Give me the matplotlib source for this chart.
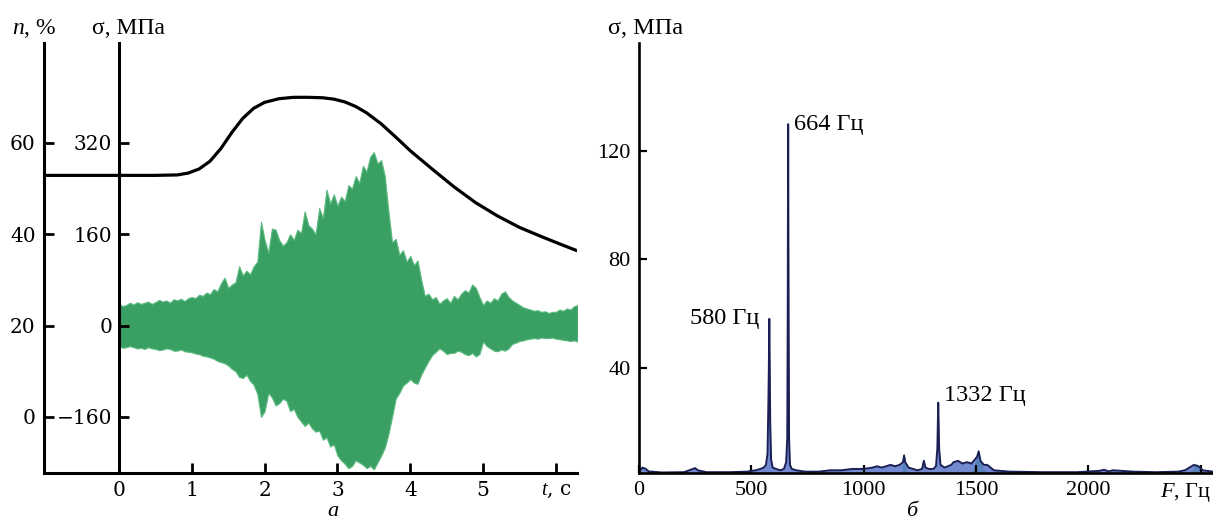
import numpy as np
import matplotlib.pyplot as plt

plt.rcParams['font.family'] = ['DejaVu Serif']
plt.rcParams['mathtext.fontset'] = 'custom'
plt.rcParams['mathtext.rm'] = 'Liberation Serif'
plt.rcParams['mathtext.it'] = 'Liberation Serif:italic'

# rotor speed n, % vs time
n_t = [-1.03, 0.0, 0.5, 0.8, 0.95, 1.1, 1.25, 1.4, 1.55, 1.7, 1.85, 2.0, 2.2, 2.4,
       2.6, 2.8, 2.95, 3.1, 3.25, 3.4, 3.6, 3.8, 4.0, 4.3, 4.6, 4.9, 5.2, 5.5,
       5.8, 6.05, 6.29]
n_val = [52.9, 52.9, 52.9, 53.0, 53.4, 54.3, 56.0, 58.8, 62.3, 65.4, 67.6, 68.9, 69.7, 70.0,
         70.0, 69.9, 69.6, 69.0, 68.0, 66.6, 64.2, 61.3, 58.3, 54.3, 50.4, 46.9, 44.0, 41.5,
         39.5, 37.9, 36.4]

# stress signal envelope, MPa, sampled every 0.05 s from 0 to 6.3 s
sig_upper = [38, 34, 36, 40, 37, 41, 38, 40, 42, 38,
             41, 45, 42, 44, 40, 46, 44, 47, 43, 48,
             50, 48, 54, 52, 58, 55, 64, 60, 74, 84,
             66, 72, 76, 104, 88, 96, 90, 104, 112, 182,
             150, 128, 170, 168, 150, 140, 146, 160, 150, 168,
             162, 200, 176, 170, 160, 206, 188, 238, 214, 230,
             210, 226, 218, 246, 240, 262, 250, 280, 270, 296,
             304, 284, 290, 262, 200, 146, 152, 124, 132, 112,
             122, 106, 114, 80, 52, 56, 46, 50, 38, 44,
             48, 40, 52, 46, 56, 62, 58, 72, 66, 50,
             36, 44, 40, 48, 44, 56, 60, 50, 44, 40,
             36, 32, 30, 28, 26, 27, 24, 25, 22, 24,
             24, 28, 26, 30, 28, 34, 36]
sig_lower = [-36, -39, -38, -36, -38, -40, -39, -41, -38, -40,
             -41, -43, -42, -40, -41, -44, -44, -42, -45, -46,
             -47, -49, -50, -53, -54, -56, -58, -62, -64, -66,
             -70, -76, -80, -90, -92, -86, -97, -104, -120, -160,
             -150, -118, -126, -140, -136, -128, -132, -150, -146, -160,
             -168, -176, -170, -180, -186, -184, -200, -196, -212, -208,
             -228, -236, -242, -250, -246, -236, -240, -244, -250, -246,
             -252, -240, -228, -214, -190, -160, -128, -118, -105, -100,
             -94, -100, -102, -86, -74, -62, -52, -46, -40, -44,
             -50, -48, -48, -44, -46, -50, -52, -48, -54, -50,
             -28, -36, -40, -44, -45, -42, -44, -40, -32, -30,
             -27, -26, -24, -23, -22, -23, -21, -22, -22, -21,
             -23, -24, -25, -26, -27, -26, -28]
sig_t = np.linspace(0, 6.3, len(sig_upper))

# amplitude spectrum
spec_f = [0, 15, 30, 45, 60, 100, 200, 240, 250, 262,
          300, 400, 480, 520, 540, 555, 565, 572, 576, 578,
          580, 582, 584, 588, 595, 610, 630, 645, 655, 660,
          662, 664, 666, 668, 672, 680, 700, 740, 800, 850,
          900, 950, 1000, 1040, 1060, 1080, 1100, 1120, 1140, 1160,
          1175, 1180, 1185, 1200, 1220, 1240, 1260, 1268, 1275, 1290,
          1310, 1322, 1328, 1332, 1336, 1342, 1360, 1390, 1400, 1420,
          1440, 1460, 1480, 1495, 1505, 1512, 1520, 1535, 1550, 1565,
          1580, 1650, 1800, 1950, 2050, 2070, 2090, 2110, 2200, 2300,
          2400, 2430, 2450, 2470, 2490, 2510, 2555]
spec_amp = [1.5, 3, 2.5, 1.5, 1.5, 1.2, 1.3, 2.5, 2.8, 2,
            1.3, 1.3, 1.5, 2, 2.5, 3, 4, 8, 27, 40,
            58, 40, 20, 6, 3, 2.5, 2, 2.5, 5, 14,
            60, 130, 60, 14, 4, 2.5, 2, 1.5, 1.5, 2,
            2, 2.5, 2.5, 3, 3.5, 3, 3.5, 4, 3.5, 4,
            5, 7.5, 5, 3, 2.5, 2, 2.5, 5.5, 3, 2.5,
            2.5, 3.5, 10, 27, 10, 4, 3, 4, 5, 5.5,
            4.5, 5, 4.5, 6, 7, 9, 5.5, 4, 4, 3,
            2, 1.5, 1.3, 1.3, 1.8, 2.2, 1.6, 2, 1.5, 1.3,
            1.5, 2, 3, 4, 3.5, 2, 1.5]
green_f = [1160, 1170, 1180, 1190, 1200, 1470, 1490, 1510, 1530, 1550,
           2440, 2460, 2480, 2500, 2520]
green_amp = [1, 2, 8.5, 2, 1, 1, 3, 9.5, 3, 1,
             1, 2, 4.5, 2, 1]

peaks = [(580, 58), (664, 130), (1332, 27)]

W, H = 1213, 524
fig = plt.figure(figsize=(W / 100, H / 100), dpi=100)

# ---- left panel: n and sigma vs time ----
ax = fig.add_axes([44 / W, 1 - 473 / H, 533 / W, 430 / H])
ax.set_xlim(-1.03, 6.29)
ax.set_ylim(-12.3, 81.9)
ax.plot(n_t, n_val, color='black', lw=2.3, solid_capstyle='round', zorder=5)
for s in ['top', 'right']:
    ax.spines[s].set_visible(False)
for s in ['left', 'bottom']:
    ax.spines[s].set_linewidth(2.2)
ax.set_yticks([0, 20, 40, 60])
ax.set_xticks([0, 1, 2, 3, 4, 5, 6])
ax.set_xticklabels(['0', '1', '2', '3', '4', '5', '$t$, с'])
ax.tick_params(direction='in', length=7, width=2, labelsize=14.5, pad=6)

ax2 = ax.twinx()
ax2.set_ylim(8 * (-12.3 - 20), 8 * (81.9 - 20))
ax2.fill_between(sig_t, sig_lower, sig_upper, color='#3a9f63', lw=0.8,
                 edgecolor='#5cbb80')
for s in ['top', 'right', 'bottom']:
    ax2.spines[s].set_visible(False)
ax2.spines['left'].set_position(('data', 0))
ax2.spines['left'].set_linewidth(2.2)
ax2.yaxis.tick_left()
ax2.set_yticks([-160, 0, 160, 320])
ax2.set_yticklabels(['\u2212160', '0', '160', '320'])
ax2.tick_params(direction='in', length=7, width=2, labelsize=14.5, pad=5)

fig.text(34 / W, 1 - 28 / H, '$n$, %', ha='center', va='center', fontsize=17,
         family='Liberation Serif')
fig.text(128 / W, 1 - 28 / H, 'σ, МПа', ha='center', va='center', fontsize=17,
         family='Liberation Serif')
fig.text(333 / W, 1 - 512 / H, 'а', ha='center', va='center', fontsize=16,
         family='Liberation Serif', style='italic')

# ---- right panel: spectrum ----
bx = fig.add_axes([639 / W, 1 - 473 / H, (W - 639) / W, 430 / H])
bx.set_xlim(0, 2555)
bx.set_ylim(1, 160)
bx.fill_between(green_f, 1, green_amp, color='#4cc070', lw=0)
bx.fill_between(spec_f, 1, spec_amp, color='#5a76c8', lw=0, alpha=0.85)
bx.plot(spec_f, spec_amp, color='#1a1f55', lw=1.4)
for s in ['top', 'right']:
    bx.spines[s].set_visible(False)
for s in ['left', 'bottom']:
    bx.spines[s].set_linewidth(1.9)
bx.set_yticks([40, 80, 120])
bx.set_xticks([0, 500, 1000, 1500, 2000, 2500])
bx.set_xticklabels(['0', '500', '1000', '1500', '2000', ''])
bx.tick_params(direction='in', length=6, width=1.6, labelsize=16, pad=6)
for lab in bx.get_xticklabels() + bx.get_yticklabels():
    lab.set_family('Liberation Serif')
fig.text(1211 / W, 1 - 492 / H, '$F$, Гц', ha='right', va='center', fontsize=16,
         family='Liberation Serif')

f0, a0 = peaks[0]
bx.annotate(f'{f0} Гц', (f0, a0), xytext=(-7, 0), textcoords='offset points',
            ha='right', va='center', fontsize=17.5, family='Liberation Serif')
f1, a1 = peaks[1]
bx.annotate(f'{f1} Гц', (f1, a1), xytext=(4, 0), textcoords='offset points',
            ha='left', va='center', fontsize=17.5, family='Liberation Serif')
f2, a2 = peaks[2]
bx.annotate(f'{f2} Гц', (f2, a2), xytext=(4, 5), textcoords='offset points',
            ha='left', va='center', fontsize=17.5, family='Liberation Serif')

fig.text(646 / W, 1 - 28 / H, 'σ, МПа', ha='center', va='center', fontsize=17.5,
         family='Liberation Serif')
fig.text(912 / W, 1 - 512 / H, 'б', ha='center', va='center', fontsize=16,
         family='Liberation Serif', style='italic')

fig.savefig('out.png', dpi=100)
